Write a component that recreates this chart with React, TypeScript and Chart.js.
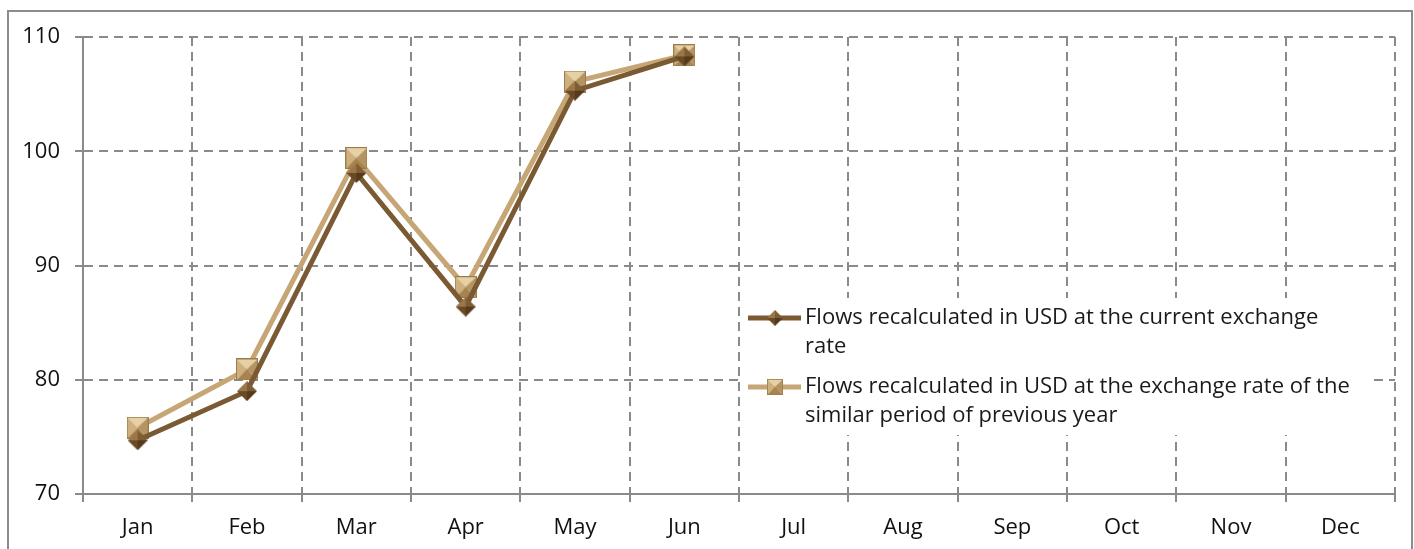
import React, { useEffect, useRef } from "react";
import { Chart, registerables } from "chart.js";

Chart.register(...registerables);

const months = ["Jan", "Feb", "Mar", "Apr", "May", "Jun", "Jul", "Aug", "Sep", "Oct", "Nov", "Dec"];
const currentRateFlows = [74.7, 79.0, 98.1, 86.4, 105.3, 108.3, null, null, null, null, null, null];
const prevYearRateFlows = [75.8, 80.9, 99.4, 88.1, 106.1, 108.4, null, null, null, null, null, null];
const seriesLabels = [
  ["Flows recalculated in USD at the current exchange", "rate"],
  ["Flows recalculated in USD at the exchange rate of the", "similar period of previous year"],
];
const yMin = 70;
const yMax = 110;
const yStep = 10;

const FONT = "'Open Sans', 'Noto Sans', sans-serif";
const DARK = "#7a5a33";
const LIGHT = "#c6a675";
const GRID = "#8a8a8a";

function makeSquare(size: number) {
  const c = document.createElement("canvas");
  c.width = size;
  c.height = size;
  const g = c.getContext("2d")!;
  const s = size;
  const m = s / 2;
  const tri = (pts: number[][], col: string) => {
    g.beginPath();
    g.moveTo(pts[0][0], pts[0][1]);
    g.lineTo(pts[1][0], pts[1][1]);
    g.lineTo(pts[2][0], pts[2][1]);
    g.closePath();
    g.fillStyle = col;
    g.fill();
  };
  tri([[0, 0], [s, 0], [m, m]], "#e6d0a4");
  tri([[0, 0], [0, s], [m, m]], "#cdb07e");
  tri([[s, 0], [s, s], [m, m]], "#b69462");
  tri([[0, s], [s, s], [m, m]], "#a6834f");
  g.strokeStyle = "#9c7c4c";
  g.lineWidth = 1;
  g.strokeRect(0.5, 0.5, s - 1, s - 1);
  return c;
}

function makeDiamond(size: number) {
  const c = document.createElement("canvas");
  c.width = size;
  c.height = size;
  const g = c.getContext("2d")!;
  const s = size;
  const m = s / 2;
  const tri = (pts: number[][], col: string) => {
    g.beginPath();
    g.moveTo(pts[0][0], pts[0][1]);
    g.lineTo(pts[1][0], pts[1][1]);
    g.lineTo(pts[2][0], pts[2][1]);
    g.closePath();
    g.fillStyle = col;
    g.fill();
  };
  tri([[m, 0], [0, m], [m, m]], "#9a7648");
  tri([[m, 0], [s, m], [m, m]], "#7e5c34");
  tri([[0, m], [m, s], [m, m]], "#6a4a26");
  tri([[s, m], [m, s], [m, m]], "#553a1c");
  return c;
}

const borderPlugin = {
  id: "outerBorder",
  beforeDraw(chart: any) {
    const ctx = chart.ctx;
    ctx.save();
    ctx.fillStyle = "#ffffff";
    ctx.fillRect(0, 0, chart.width, chart.height);
    ctx.strokeStyle = "#8c8c8c";
    ctx.lineWidth = 2;
    ctx.strokeRect(8, 11, 1404, 560);
    ctx.restore();
  },
};

function makeLegendPlugin(diamond: HTMLCanvasElement, square: HTMLCanvasElement) {
  return {
    id: "customLegend",
    afterDraw(chart: any) {
      const ctx = chart.ctx;
      ctx.save();
      ctx.fillStyle = "#ffffff";
      ctx.fillRect(740, 298, 634, 137);
      const items = [
        { y: 318, color: DARK, img: diamond, lines: seriesLabels[0], mSize: 16 },
        { y: 387, color: LIGHT, img: square, lines: seriesLabels[1], mSize: 16 },
      ];
      ctx.font = `22px ${FONT}`;
      ctx.textBaseline = "middle";
      ctx.textAlign = "left";
      items.forEach((it) => {
        ctx.strokeStyle = it.color;
        ctx.lineWidth = 5;
        ctx.beginPath();
        ctx.moveTo(748, it.y);
        ctx.lineTo(801, it.y);
        ctx.stroke();
        ctx.drawImage(it.img, 775 - it.mSize / 2, it.y - it.mSize / 2, it.mSize, it.mSize);
        ctx.fillStyle = "#1a1a1a";
        it.lines.forEach((ln: string, i: number) => {
          ctx.fillText(ln, 805, it.y + i * 29);
        });
      });
      ctx.restore();
    },
  };
}

export default function App() {
  const ref = useRef<HTMLCanvasElement | null>(null);
  useEffect(() => {
    if (!ref.current) return;
    const diamond = makeDiamond(20);
    const square = makeSquare(22);
    const chart = new Chart(ref.current, {
      type: "line",
      data: {
        labels: months,
        datasets: [
          {
            label: seriesLabels[0].join(" "),
            data: currentRateFlows,
            borderColor: DARK,
            backgroundColor: DARK,
            borderWidth: 5,
            pointStyle: diamond as any,
            pointRadius: 10,
            tension: 0,
          },
          {
            label: seriesLabels[1].join(" "),
            data: prevYearRateFlows,
            borderColor: LIGHT,
            backgroundColor: LIGHT,
            borderWidth: 5,
            pointStyle: square as any,
            pointRadius: 11,
            tension: 0,
          },
        ],
      },
      options: {
        responsive: false,
        animation: false,
        layout: { padding: { left: 0, top: 37, right: 19, bottom: 0 } },
        plugins: {
          legend: { display: false },
          tooltip: { enabled: false },
        },
        scales: {
          x: {
            offset: true,
            grid: {
              offset: true,
              color: GRID,
              lineWidth: 2,
              drawTicks: true,
              tickLength: 8,
              tickColor: GRID,
              tickWidth: 2,
            },
            border: { display: true, color: GRID, width: 2, dash: [9, 6] },
            ticks: {
              color: "#111",
              font: { family: FONT, size: 22 },
              padding: 13,
              maxRotation: 0,
            },
            afterFit(scale: any) {
              scale.height = 55;
            },
          },
          y: {
            min: yMin,
            max: yMax,
            grid: {
              color: GRID,
              lineWidth: 2,
              drawTicks: true,
              tickLength: 8,
              tickColor: GRID,
              tickWidth: 2,
            },
            border: { display: true, color: GRID, width: 2, dash: [9, 6] },
            ticks: {
              stepSize: yStep,
              color: "#111",
              font: { family: FONT, size: 22 },
              padding: 15,
            },
            afterFit(scale: any) {
              scale.width = 83;
            },
          },
        },
      },
      plugins: [borderPlugin, makeLegendPlugin(diamond, square)],
    });
    return () => chart.destroy();
  }, []);
  return (
    <div style={{ position: "absolute", left: 0, top: 0, width: 1414, height: 549 }}>
      <canvas ref={ref} width={1414} height={549} style={{ display: "block" }} />
    </div>
  );
}
